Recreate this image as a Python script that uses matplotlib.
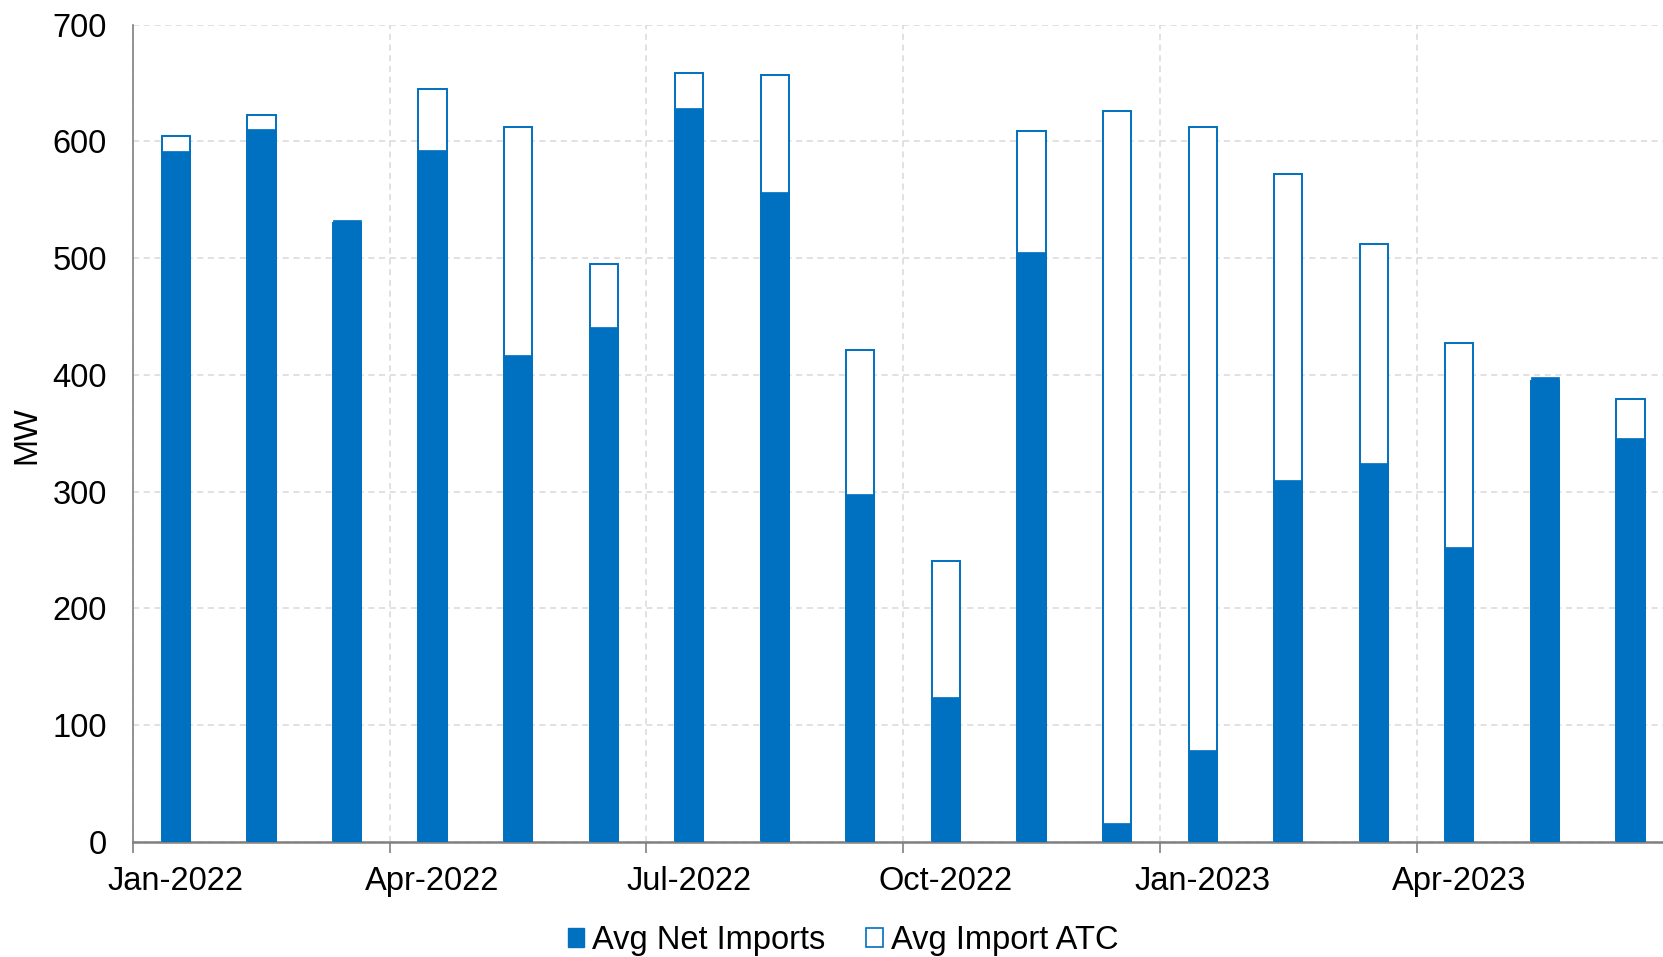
import matplotlib
matplotlib.use("Agg")
import matplotlib.pyplot as plt
from matplotlib.patches import Patch
import numpy as np

plt.rcParams['font.family'] = ['Liberation Sans', 'DejaVu Sans']

months = ["Jan-2022", "Feb-2022", "Mar-2022", "Apr-2022", "May-2022", "Jun-2022",
          "Jul-2022", "Aug-2022", "Sep-2022", "Oct-2022", "Nov-2022", "Dec-2022",
          "Jan-2023", "Feb-2023", "Mar-2023", "Apr-2023", "May-2023", "Jun-2023"]
net_imports = [592, 611, 533, 593, 417, 441, 629, 557, 298, 124, 505, 16,
               79, 310, 325, 253, 398, 346]
import_atc = [605, 623, 530, 645, 612, 495, 659, 657, 421, 241, 609, 626,
              612, 572, 512, 427, 395, 379]
y_ticks = [0, 100, 200, 300, 400, 500, 600, 700]

BLUE = "#0070C0"
GRID = "#d9d9d9"
FS = 23.5

fig = plt.figure(figsize=(16.63, 9.57), dpi=100)
ax = fig.add_axes([0.08, 0.1202, 0.92, 0.854])

x = np.arange(len(months)) + 0.5
w = 0.33
ax.bar(x, import_atc, width=w, facecolor="white", edgecolor=BLUE, linewidth=1.4, zorder=2)
ax.bar(x, net_imports, width=w, facecolor=BLUE, edgecolor=BLUE, linewidth=0.5, zorder=3)

ax.set_xlim(0, 17.88)
ax.set_ylim(0, 700)
ax.set_yticks(y_ticks)
ax.tick_params(axis='y', length=0, labelsize=FS, pad=19)

# quarter boundaries carry the tick marks and vertical grid; labels sit mid-month
major = np.arange(0, len(months), 3)
ax.set_xticks(major)
ax.set_xticklabels([])
ax.set_xticks(major + 0.5, minor=True)
ax.set_xticklabels([months[i] for i in major], minor=True)
ax.tick_params(axis='x', which='major', length=8, width=1.2, color="#808080", direction='out')
ax.tick_params(axis='x', which='minor', length=0, labelsize=FS, pad=17)

ax.grid(True, which='major', axis='both', color=GRID, linestyle=(0, (4, 3)), linewidth=1.1, zorder=0)
ax.set_axisbelow(True)

for s in ("top", "right"):
    ax.spines[s].set_visible(False)
ax.spines["left"].set_color("#808080")
ax.spines["left"].set_linewidth(1.2)
ax.spines["bottom"].set_color("#808080")
ax.spines["bottom"].set_linewidth(1.8)

fig.text(0.016, 0.545, "MW", rotation=90, ha="center", va="center", fontsize=FS)

handles = [Patch(facecolor=BLUE, edgecolor=BLUE, linewidth=1.0),
           Patch(facecolor="white", edgecolor=BLUE, linewidth=1.2)]
fig.legend(handles, ["Avg Net Imports", "Avg Import ATC"], loc="center",
           bbox_to_anchor=(0.507, 0.017), ncol=2, frameon=False, fontsize=FS,
           handlelength=0.5, handleheight=0.5, handletextpad=0.25, columnspacing=1.25,
           borderpad=0, borderaxespad=0)

fig.savefig("out.png", dpi=100)
